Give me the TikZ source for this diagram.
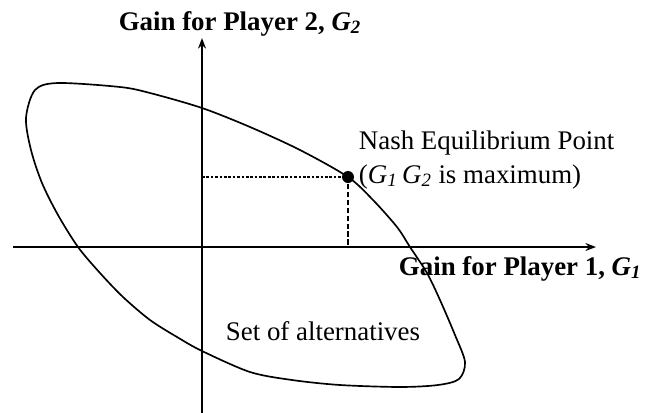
\documentclass[tikz,border=0pt]{standalone}
\usetikzlibrary{arrows.meta}
\usepackage{fontspec}
\setmainfont{Liberation Serif}

\begin{document}
\begin{tikzpicture}[x=0.02cm,y=-0.02cm,line width=1.1pt,>={Stealth[length=6pt,width=4.5pt]},
  lbl/.style={font=\fontsize{15.3}{18}\selectfont,inner sep=0pt}]
\useasboundingbox (0,0) rectangle (650,413);
% axes G1, G2
\coordinate (o) at (202,247);
\coordinate (xtail) at (13,247);
\coordinate (xtip) at (596,247);
\coordinate (ybot) at (202,413);
\coordinate (ytip) at (202,38);
\draw[->] (xtail) -- (xtip);
\draw[->] (ybot) -- (ytip);
% axis labels
\node[lbl,anchor=base] (g2lbl) at (240,30) {\textbf{Gain for Player 2, \textit{G}\textsubscript{\textit{2}}}};
\node[lbl,anchor=base west] (g1lbl) at (398,275) {\textbf{Gain for Player 1, \textit{G}\textsubscript{\textit{1}}}};
% set of alternatives (closed curve)
\draw[line width=0.95pt] plot[smooth cycle,tension=0.5] coordinates {
  (26,118) (35,90) (58,83) (120,87) (150,93) (202,108) (250,127) (300,150)
  (348,177) (373,200) (397,227) (410,247) (427,273) (440,300) (455,335)
  (465,362) (459,379) (438,385) (400,387) (340,385) (292,380) (250,372)
  (202,351) (177,337) (150,320) (123,297) (100,273) (78,247) (58,215)
  (42,183) (31,150)};
\node[lbl,anchor=base west] (settxt) at (225,340) {Set of alternatives};
% Nash point and its projections
\node[circle,fill,inner sep=0pt,minimum size=0.24cm] (nash) at (348,177) {};
\draw[line width=0.6pt,dash pattern=on 1.5pt off 1pt] (nash -| o) -- (nash);
\draw[line width=0.6pt,dash pattern=on 3pt off 1.5pt] (nash) -- (nash |- o);
\node[lbl,anchor=base west] (nashtxt) at (358,149) {Nash Equilibrium Point};
\node[lbl,anchor=base west] (nashsub) at (358,183) {(\textit{G}\textsubscript{\textit{1}}\,\textit{G}\textsubscript{\textit{2}} is maximum)};
\end{tikzpicture}
\end{document}
